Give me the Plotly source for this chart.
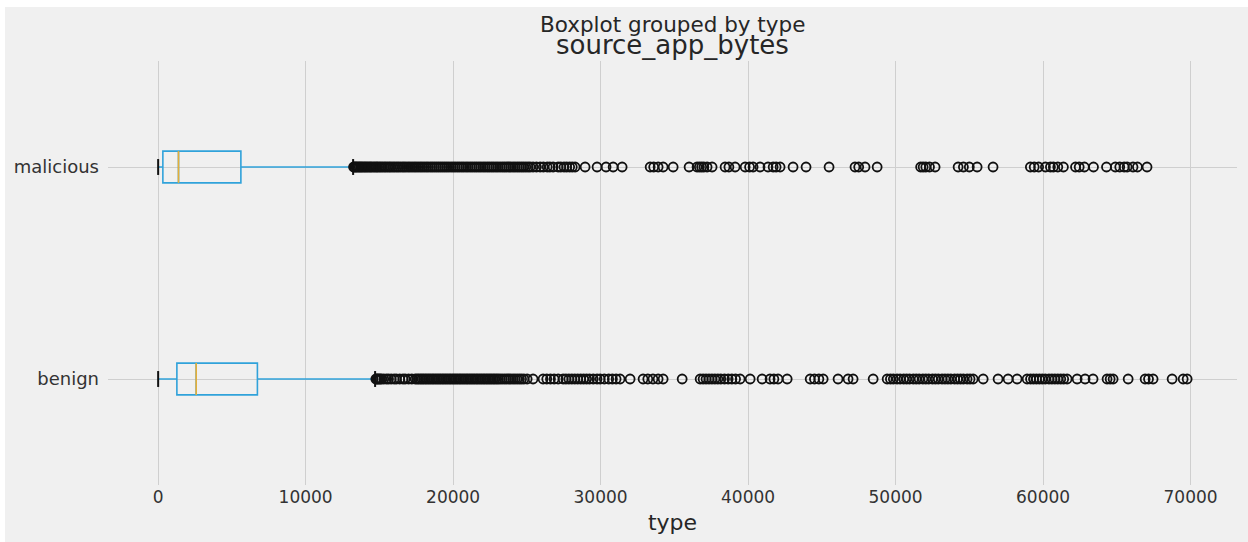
import plotly.graph_objects as go

categories = ["benign", "malicious"]
positions = [1, 2]

q1 = [1270, 320]
median = [2580, 1380]
q3 = [6730, 5610]
whisker_low = [0, 0]
whisker_high = [14710, 13220]

benign_outliers = [
    14760, 14830, 14900, 14980, 15060, 15150, 15300, 15480, 15620, 15800, 16000, 16150,
    16380, 16600, 16750, 16980, 17200, 17430, 17550, 17660, 17780, 17890, 18000, 18120,
    18230, 18350, 18460, 18580, 18690, 18810, 18920, 19040, 19150, 19270, 19380, 19500,
    19610, 19730, 19840, 19960, 20070, 20190, 20300, 20420, 20530, 20650, 20760, 20880,
    20990, 21110, 21220, 21340, 21450, 21570, 21680, 21800, 21910, 22030, 22140, 22260,
    22370, 22490, 22600, 22720, 22830, 22950, 23060, 23190,
    23330, 23480, 23620, 23770, 23910, 24060, 24200, 24350, 24500, 24640, 24800, 25020,
    25420, 26100, 26350, 26600, 26850, 27120,
    27460, 27650, 27850, 28050, 28250, 28450, 28650, 28850, 29050, 29250, 29500, 29760,
    29970, 30250, 30550, 30800, 31050, 31320, 32000, 32880, 33200, 33550, 33900, 34240,
    35530, 36750, 36950, 37150, 37350, 37550, 37750, 37950, 38150, 38400, 38650, 38900,
    39150, 39460, 40140, 40950, 41490, 41750, 42030, 42650, 44210, 44500, 44800, 45090,
    46100, 46780, 47120, 48480,
    49430, 49650, 49850, 50100, 50310, 50550, 50750, 50950, 51200, 51400, 51600, 51850,
    52050, 52250, 52500, 52700, 52900, 53150, 53350, 53550, 53750, 54000, 54200, 54400,
    54600, 54850, 55050, 55260, 55940, 56950, 57630, 58240,
    58920, 59150, 59350, 59550, 59750, 59950, 60150, 60400, 60600, 60800, 61000, 61200,
    61400, 61630, 62310, 62850, 63390, 64340, 64550, 64750, 65770, 66920, 67150, 67460,
    68750, 69500, 69770,
]

malicious_outliers = [
    13250, 13320, 13400, 13470, 13560, 13640, 13730, 13810, 13900, 14000, 14090, 14180,
    14290, 14380, 14470, 14580, 14690, 14790, 14880, 14990, 15100, 15210, 15330, 15440,
    15560, 15680, 15790, 15920, 16040, 16170, 16290, 16420, 16560, 16680, 16810, 16950,
    17080, 17220, 17360, 17490, 17630, 17770, 17900, 18040, 18180, 18310, 18460, 18590,
    18730, 18870, 19010, 19150, 19290, 19430, 19570, 19710, 19860, 20000, 20140, 20290,
    20430, 20580, 20720, 20870, 21010, 21160, 21300, 21450, 21590, 21740, 21880, 22030,
    22170, 22320, 22460, 22610, 22750, 22900, 23040, 23190,
    23340, 23480, 23620, 23770, 23910, 24060, 24200, 24350, 24490, 24640, 24780, 24930,
    25080, 25220, 25420, 25650, 25900, 26120, 26380, 26560, 26780,
    27120, 27300, 27520, 27700, 27900, 28080, 28270,
    28950, 29760, 30370, 30850, 31460, 33360, 33600, 33900, 34240, 34920, 36000, 36540,
    36700, 36850, 37000, 37220, 37560, 38440, 38700, 39120, 39800, 40100, 40340, 40810,
    41350, 41700, 41900, 42170, 43050, 43930, 45490, 47250, 47500, 47930, 48750, 51700,
    51870, 52050, 52300, 52680, 54240, 54600, 55000, 55530, 56610, 59140, 59400, 59700,
    60160, 60500, 60700, 61000, 61380, 62200, 62450, 62800, 63420, 64300, 64900, 65200,
    65500, 65700, 66100, 66400, 67050,
]

x_ticks = [0, 10000, 20000, 30000, 40000, 50000, 60000, 70000]

outliers = [benign_outliers, malicious_outliers]

BLUE = "#30a2da"
ORANGE = "#e5ae38"
BOX_W = 0.15
CAP_HALF = 0.0375

fig = go.Figure()

for i, cat in enumerate(categories):
    pos = positions[i]
    fig.add_trace(go.Box(
        y=[pos], q1=[q1[i]], median=[median[i]], q3=[q3[i]],
        lowerfence=[whisker_low[i]], upperfence=[whisker_high[i]],
        orientation="h", width=BOX_W, boxpoints=False, whiskerwidth=0,
        line=dict(color=BLUE, width=1.6), fillcolor="rgba(0,0,0,0)",
        showlegend=False, hoverinfo="skip",
    ))
    fig.add_trace(go.Scatter(
        x=[median[i], median[i]], y=[pos - BOX_W / 2, pos + BOX_W / 2],
        mode="lines", line=dict(color=ORANGE, width=1.6),
        showlegend=False, hoverinfo="skip",
    ))
    for f in (whisker_low[i], whisker_high[i]):
        fig.add_trace(go.Scatter(
            x=[f, f], y=[pos - CAP_HALF, pos + CAP_HALF],
            mode="lines", line=dict(color="#111111", width=2),
            showlegend=False, hoverinfo="skip",
        ))
    fig.add_trace(go.Scatter(
        x=outliers[i], y=[pos] * len(outliers[i]), mode="markers",
        marker=dict(symbol="circle-open", size=9, color="#111111",
                    line=dict(width=1.8, color="#111111")),
        showlegend=False, hoverinfo="skip",
    ))

# plot area in pixels: left 108, right 1237, top 61, bottom 485
W, H = 1248, 542
L, R, T, B = 108, 1237, 61, 485
pw, ph = R - L, B - T

def py(y_px):
    return (B - y_px) / ph

def px(x_px):
    return (x_px - L) / pw

fig.update_layout(
    width=W, height=H,
    margin=dict(l=L, r=W - R, t=T, b=H - B, pad=0),
    paper_bgcolor="#f0f0f0", plot_bgcolor="#f0f0f0",
    font=dict(family="DejaVu Sans", color="#333333", size=17),
    xaxis=dict(range=[-3400, 73150], tickvals=x_ticks,
               ticktext=[str(v) for v in x_ticks],
               showgrid=True, gridcolor="#cfcfcf", gridwidth=1.2,
               zeroline=False, showline=False, ticks="",
               tickfont=dict(size=17, color="#333333"),
               title=dict(text="type", font=dict(size=22, color="#262626"), standoff=8)),
    yaxis=dict(range=[0.5, 2.5], tickvals=positions, ticktext=categories,
               showgrid=True, gridcolor="#cfcfcf", gridwidth=1.2,
               zeroline=False, showline=False, ticks="",
               ticklabelstandoff=8,
               tickfont=dict(size=18, color="#333333")),
    annotations=[
        dict(text="Boxplot grouped by type", xref="paper", yref="paper",
             x=0.5, y=py(25), xanchor="center", yanchor="middle", showarrow=False,
             font=dict(size=21.5, color="#262626")),
        dict(text="source_app_bytes", xref="paper", yref="paper",
             x=0.5, y=py(45), xanchor="center", yanchor="middle", showarrow=False,
             font=dict(size=26, color="#262626")),
    ],
    shapes=[
        dict(type="rect", xref="paper", yref="paper", x0=px(0), x1=px(W),
             y0=py(7), y1=py(0), fillcolor="white", line=dict(width=0), layer="above"),
        dict(type="rect", xref="paper", yref="paper", x0=px(0), x1=px(5),
             y0=py(H), y1=py(0), fillcolor="white", line=dict(width=0), layer="above"),
    ],
)

fig.write_html("out.html")
